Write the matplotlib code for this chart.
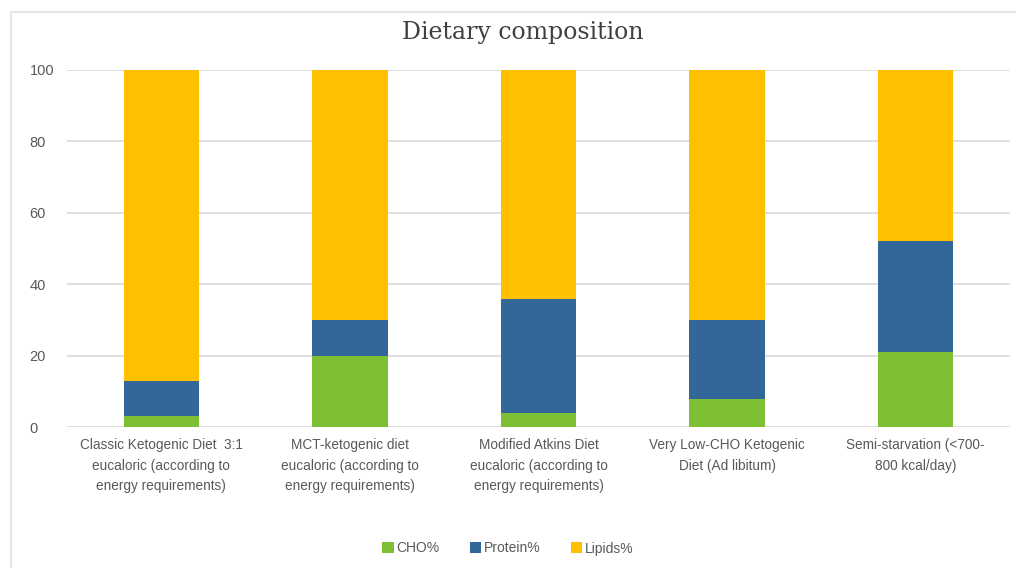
import numpy as np
import matplotlib.pyplot as plt
from matplotlib.lines import Line2D

# data
diets = ['Classic Ketogenic Diet  3:1\neucaloric (according to\nenergy requirements)',
         'MCT-ketogenic diet\neucaloric (according to\nenergy requirements)',
         'Modified Atkins Diet\neucaloric (according to\nenergy requirements)',
         'Very Low-CHO Ketogenic\nDiet (Ad libitum)',
         'Semi-starvation (<700-\n800 kcal/day)']
cho = [3, 20, 4, 8, 21]
protein = [10, 10, 32, 22, 31]
lipids = [87, 70, 64, 70, 48]

plt.rcParams['font.family'] = ['Liberation Sans', 'DejaVu Sans']

fig = plt.figure(figsize=(10.16, 5.68), dpi=100)
ax = fig.add_axes([0.066, 0.248, 0.928, 0.629])

x = np.arange(len(diets))
w = 0.4
ax.bar(x, cho, w, color='#7dc034', label='CHO%', zorder=3)
ax.bar(x, protein, w, bottom=cho, color='#336699', label='Protein%', zorder=3)
ax.bar(x, lipids, w, bottom=np.array(cho) + np.array(protein), color='#ffc000', label='Lipids%', zorder=3)

ax.set_ylim(0, 100)
ax.set_xlim(-0.5, len(diets) - 0.5)
ax.set_yticks(range(0, 101, 20))
ax.yaxis.grid(True, color='#d9d9d9', linewidth=1.2, zorder=0)
for s in ax.spines.values():
    s.set_visible(False)
ax.tick_params(axis='both', length=0, labelsize=10.5, colors='#595959')
ax.tick_params(axis='y', pad=27)
for t in ax.get_yticklabels():
    t.set_horizontalalignment('left')
ax.set_xticks(x)
ax.set_xticklabels(diets, linespacing=1.6, fontsize=9.8)
ax.tick_params(axis='x', pad=8)

ax.set_title('Dietary composition', fontsize=17, color='#404040', x=0.483,
             family=['DejaVu Serif'], pad=22)

fig.legend(loc='lower center', bbox_to_anchor=(0.5, 0.0), ncol=3, frameon=False,
           fontsize=10, labelcolor='#595959', handlelength=0.8, handleheight=0.8,
           handletextpad=0.2, columnspacing=2.2)

# light frame on top and left only
fig.lines.append(Line2D([0.0105, 1.0], [1 - 12 / 568, 1 - 12 / 568], transform=fig.transFigure,
                        color='#e6e6e6', linewidth=1.5))
fig.lines.append(Line2D([0.0105, 0.0105], [0.0, 1 - 12 / 568], transform=fig.transFigure,
                        color='#e6e6e6', linewidth=1.5))

fig.savefig('out.png', dpi=100)
